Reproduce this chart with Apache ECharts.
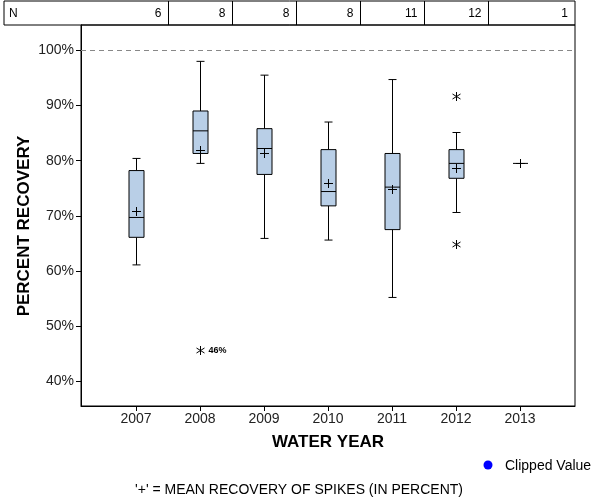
<!DOCTYPE html>
<html>
<head>
<meta charset="utf-8">
<script src="https://cdn.jsdelivr.net/npm/echarts@6/dist/echarts.min.js"></script>
<style>html,body{margin:0;padding:0;background:#fff;}#c{width:600px;height:500px;}</style>
</head>
<body>
<div id="c"></div>
<script>
// ---- data ----
const years = [2007, 2008, 2009, 2010, 2011, 2012, 2013];
const nCounts = [6, 8, 8, 8, 11, 12, 1];
const whiskerLow = [61.1, 79.5, 65.9, 65.6, 55.2, 70.6, 79.5];
const q1 = [66.1, 81.3, 77.5, 71.8, 67.5, 76.8, 79.5];
const median = [69.7, 85.4, 82.2, 74.4, 75.2, 79.5, 79.5];
const q3 = [78.2, 89.0, 85.8, 82.0, 81.3, 82.0, 79.5];
const whiskerHigh = [80.4, 98.0, 95.5, 87.0, 94.7, 85.1, 79.5];
const means = [70.8, 81.9, 81.4, 76.0, 74.9, 78.7, 79.5];
const outlierYears = [2008, 2012, 2012];
const outlierValues = [45.6, 91.8, 64.8];
const outlierLabels = ['46%', '', ''];
const yTicks = [40, 50, 60, 70, 80, 90, 100];
const referenceLine = 100;

const FONT = '"Liberation Sans", Arial, sans-serif';
const BOX_FILL = '#b9cfe7';

const boxData = years.map((y, i) => [y, whiskerLow[i], q1[i], median[i], q3[i], whiskerHigh[i], means[i]]);
const outData = outlierYears.map((y, i) => [y, outlierValues[i], outlierLabels[i]]);
const nData = years.map((y, i) => [y, nCounts[i]]);

function num(v) { return v === null || v === undefined || isNaN(v) ? null : v; }

function renderBox(params, api) {
  const x = api.value(0);
  const wl = num(api.value(1)), b1 = num(api.value(2)), md = num(api.value(3)),
        b3 = num(api.value(4)), wh = num(api.value(5)), mn = num(api.value(6));
  const st = { stroke: '#000', lineWidth: 1, fill: null };
  const ch = [];
  const hw = 7.5, cap = 4, ph = 4.5;
  if (b1 !== null) {
    const pWl = api.coord([x, wl]), pQ1 = api.coord([x, b1]), pMd = api.coord([x, md]),
          pQ3 = api.coord([x, b3]), pWh = api.coord([x, wh]);
    const cx = Math.round(pMd[0]) + 0.5;
    if (pQ1[1] - pQ3[1] > 0.5) {
      ch.push({ type: 'line', shape: { x1: cx, y1: pWh[1], x2: cx, y2: pQ3[1] }, style: st });
      ch.push({ type: 'line', shape: { x1: cx, y1: pQ1[1], x2: cx, y2: pWl[1] }, style: st });
      ch.push({ type: 'line', shape: { x1: cx - cap, y1: pWh[1], x2: cx + cap, y2: pWh[1] }, style: st });
      ch.push({ type: 'line', shape: { x1: cx - cap, y1: pWl[1], x2: cx + cap, y2: pWl[1] }, style: st });
      ch.push({ type: 'rect', shape: { x: cx - hw, y: pQ3[1], width: hw * 2, height: pQ1[1] - pQ3[1] },
        style: { fill: BOX_FILL, stroke: '#000', lineWidth: 1 } });
    }
    ch.push({ type: 'line', shape: { x1: cx - hw, y1: pMd[1], x2: cx + hw, y2: pMd[1] }, style: st });
  }
  if (mn !== null) {
    const p = api.coord([x, mn]);
    const cx = Math.round(p[0]) + 0.5, cy = Math.round(p[1]) + 0.5;
    ch.push({ type: 'line', shape: { x1: cx - ph, y1: cy, x2: cx + ph, y2: cy }, style: st });
    ch.push({ type: 'line', shape: { x1: cx, y1: cy - ph, x2: cx, y2: cy + ph }, style: st });
  }
  return { type: 'group', children: ch };
}

function renderOutlier(params, api) {
  const p = api.coord([api.value(0), api.value(1)]);
  const cx = Math.round(p[0]) + 0.5, cy = Math.round(p[1]) + 0.5;
  const lbl = outData[params.dataIndex][2];
  const st = { stroke: '#000', lineWidth: 1 };
  const ch = [
    { type: 'line', shape: { x1: cx, y1: cy - 4.5, x2: cx, y2: cy + 4.5 }, style: st },
    { type: 'line', shape: { x1: cx - 4, y1: cy - 2.5, x2: cx + 4, y2: cy + 2.5 }, style: st },
    { type: 'line', shape: { x1: cx - 4, y1: cy + 2.5, x2: cx + 4, y2: cy - 2.5 }, style: st }
  ];
  if (lbl) {
    ch.push({ type: 'text', style: { text: lbl, x: cx + 8, y: cy, align: 'left', verticalAlign: 'middle',
      font: 'bold 9px ' + FONT, fill: '#000' } });
  }
  return { type: 'group', children: ch };
}

function renderN(params, api) {
  const x = api.value(0);
  const n = api.value(1);
  const cs = params.coordSys;
  const isLast = params.dataIndex === years.length - 1;
  const right = isLast ? cs.x + cs.width : Math.round(api.coord([x + 0.5, 0])[0]) + 0.5;
  const cy = cs.y + cs.height / 2;
  const ch = [
    { type: 'text', style: { text: String(n), x: right - 7, y: cy + 1, align: 'right', verticalAlign: 'middle',
      font: '12px ' + FONT, fill: '#000' } }
  ];
  if (!isLast) {
    ch.push({ type: 'line', shape: { x1: right, y1: cs.y, x2: right, y2: cs.y + cs.height },
      style: { stroke: '#000', lineWidth: 1 } });
  }
  return { type: 'group', children: ch };
}

const chart = echarts.init(document.getElementById('c'), null, { renderer: 'canvas' });
const option = {
  backgroundColor: '#fff',
  animation: false,
  grid: [
    { left: 81, right: 25, top: 25, bottom: 94, show: true, borderColor: '#000', borderWidth: 1,
      backgroundColor: 'transparent', outerBoundsMode: 'none', containLabel: false },
    { left: 4, right: 25, top: 1, height: 24, show: true, borderColor: '#000', borderWidth: 1,
      backgroundColor: 'transparent', outerBoundsMode: 'none', containLabel: false }
  ],
  xAxis: [
    { type: 'value', gridIndex: 0, min: 2006.140625, max: 2013.859375,
      splitLine: { show: false },
      axisLine: { show: true, onZero: false, lineStyle: { color: '#000', width: 1 } },
      axisTick: { show: true, inside: false, length: 5, lineStyle: { color: '#000' }, customValues: years },
      axisLabel: { show: true, customValues: years, margin: 6, color: '#222', fontSize: 14, fontFamily: FONT,
        formatter: v => String(Math.round(v)) } },
    { type: 'value', gridIndex: 1, min: 2004.9375, max: 2013.859375, show: false }
  ],
  yAxis: [
    { type: 'value', gridIndex: 0, min: 35.52, max: 104.59,
      splitLine: { show: false },
      axisLine: { show: true, onZero: false, lineStyle: { color: '#000', width: 1 } },
      axisTick: { show: true, inside: false, length: 5, lineStyle: { color: '#000' }, customValues: yTicks },
      axisLabel: { show: true, customValues: yTicks, margin: 7, color: '#222', fontSize: 14, fontFamily: FONT,
        formatter: v => Math.round(v) + '%' } },
    { type: 'value', gridIndex: 1, min: 0, max: 1, show: false }
  ],
  series: [
    { type: 'line', xAxisIndex: 0, yAxisIndex: 0, data: [], silent: true,
      markLine: { silent: true, symbol: ['none', 'none'], label: { show: false },
        lineStyle: { color: '#888', type: [5, 4], width: 1 },
        data: [{ yAxis: referenceLine }] } },
    { type: 'custom', xAxisIndex: 0, yAxisIndex: 0, renderItem: renderBox, data: boxData, silent: true,
      encode: { x: 0, y: [1, 2, 3, 4, 5, 6] } },
    { type: 'custom', xAxisIndex: 0, yAxisIndex: 0, renderItem: renderOutlier, data: outData, silent: true,
      encode: { x: 0, y: 1 } },
    { type: 'custom', xAxisIndex: 1, yAxisIndex: 1, renderItem: renderN, data: nData, silent: true,
      encode: { x: 0, y: 1 } }
  ],
  graphic: [
    { type: 'text', x: 9, y: 14, style: { text: 'N', font: '12px ' + FONT, fill: '#000', align: 'left', verticalAlign: 'middle' } },
    { type: 'text', x: 24, y: 226, rotation: Math.PI / 2,
      style: { text: 'PERCENT RECOVERY', font: 'bold 17px ' + FONT, fill: '#000', align: 'center', verticalAlign: 'middle' } },
    { type: 'text', x: 328, y: 442,
      style: { text: 'WATER YEAR', font: 'bold 17px ' + FONT, fill: '#000', align: 'center', verticalAlign: 'middle' } },
    { type: 'circle', shape: { cx: 488, cy: 465, r: 4.5 }, style: { fill: '#0000ff' } },
    { type: 'text', x: 505, y: 466,
      style: { text: 'Clipped Value', font: '14px ' + FONT, fill: '#000', align: 'left', verticalAlign: 'middle' } },
    { type: 'text', x: 299, y: 490,
      style: { text: "'+' = MEAN RECOVERY OF SPIKES (IN PERCENT)", font: '14px ' + FONT, fill: '#000', align: 'center', verticalAlign: 'middle' } }
  ]
};
chart.setOption(option);
</script>
</body>
</html>
